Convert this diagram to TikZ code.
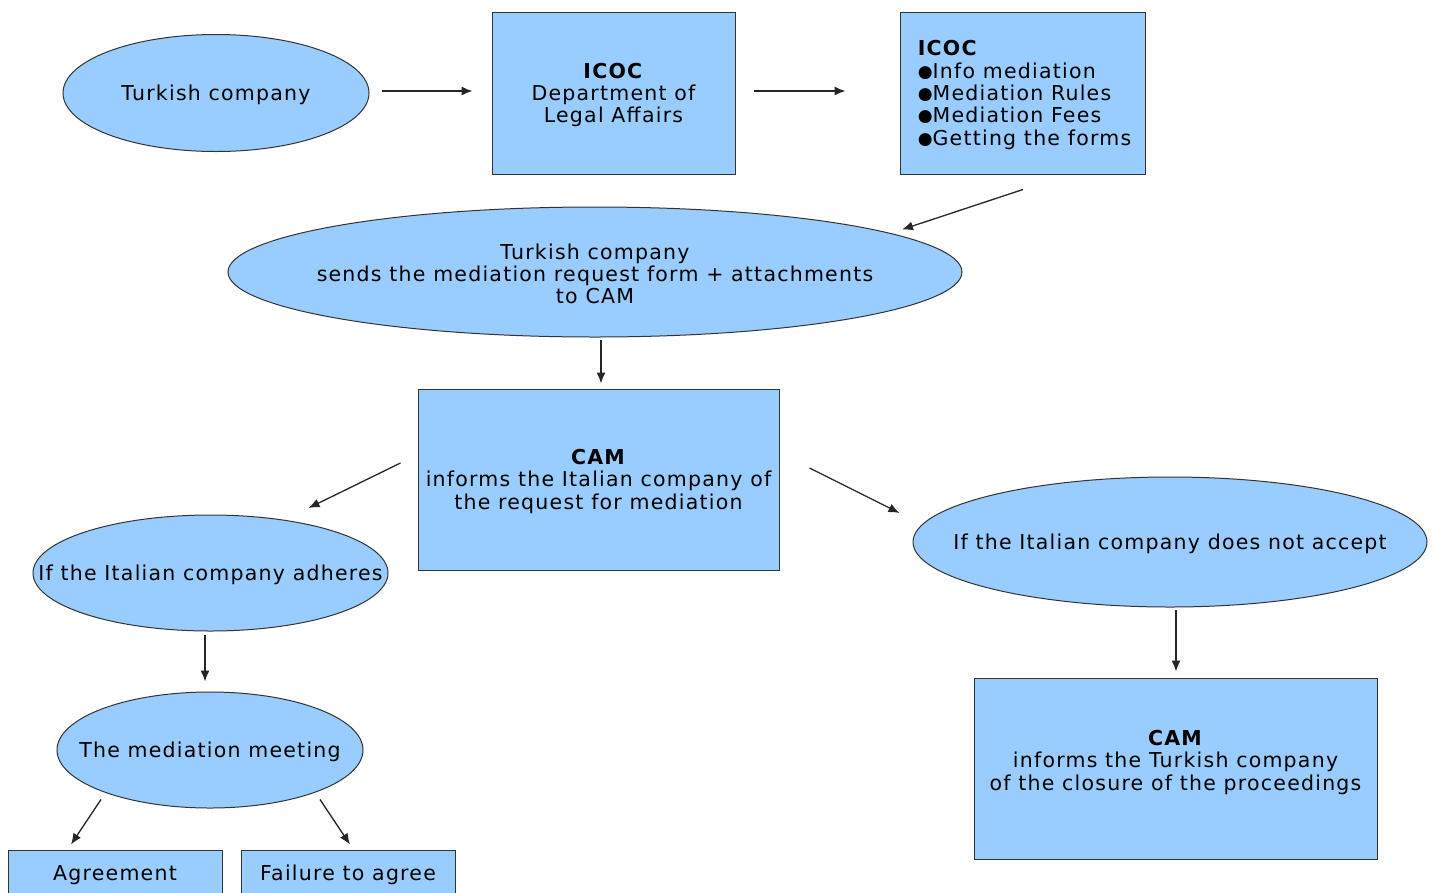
\documentclass[tikz,border=0pt]{standalone}
\usepackage{fontspec}
\setmainfont{DejaVu Sans}[LetterSpace=6]
\usetikzlibrary{shapes.geometric,arrows.meta}
\definecolor{skyfill}{HTML}{99CCFF}
\tikzset{
oval/.style={
	  draw=black!80, line width=1pt, fill=skyfill, ellipse, inner sep=0pt},
box/.style={
	  draw=black!80, line width=1pt, fill=skyfill, rectangle, inner sep=0pt},
arr/.style={
	  draw=black!85, line width=1.3pt, -{Latex[length=11pt,width=9pt]}},
every label/.style={align=center, yshift=-2pt}
}
\newcommand{\dotmark}{\raisebox{1pt}{\fontsize{17}{17}\selectfont ●}}

\begin{document}
\begin{tikzpicture}[x=1pt, y=-1pt, font=\fontsize{20.5}{22.3}\selectfont]
	\useasboundingbox (0,0) rectangle (1434,892);
	\clip (0,0) rectangle (1434,892);
	\node[oval, minimum width=306pt, minimum height=117pt,
		label=center:{Turkish company}] (tc) at (216,93) {};
	\node[box, minimum width=243pt, minimum height=162pt,
		label=center:{\textbf{ICOC}\\Department of\\Legal Affairs}] (icoc1) at (613.5,93) {};
	\node[box, minimum width=245pt, minimum height=162pt,
		label={[align=left, xshift=2pt]center:{\textbf{ICOC}\\\dotmark Info mediation\\\dotmark Mediation Rules\\\dotmark Mediation Fees\\\dotmark Getting the forms}}]
		(icoc2) at (1022.5,93) {};
	\node[oval, minimum width=734pt, minimum height=130pt,
		label=center:{Turkish company\\sends the mediation request form + attachments\\to CAM}]
		(req) at (595,272) {};
	\node[box, minimum width=361pt, minimum height=181pt,
		label=center:{\textbf{CAM}\\informs the Italian company of\\the request for mediation}]
		(cam1) at (598.5,479.5) {};
	\node[oval, minimum width=355pt, minimum height=116pt,
		label=center:{If the Italian company adheres}] (adh) at (210.5,573) {};
	\node[oval, minimum width=514pt, minimum height=130pt,
		label=center:{If the Italian company does not accept}] (nacc) at (1170,542) {};
	\node[oval, minimum width=306pt, minimum height=116pt,
		label=center:{The mediation meeting}] (meet) at (210,750) {};
	\node[box, minimum width=403pt, minimum height=181pt,
		label={[yshift=8pt]center:{\textbf{CAM}\\informs the Turkish company\\of the closure of the proceedings}}]
		(cam2) at (1175.5,768.5) {};
	\node[box, minimum width=214pt, minimum height=46pt,
		label=center:Agreement] (agr) at (115,873) {};
	\node[box, minimum width=214pt, minimum height=46pt,
		label=center:Failure to agree] (fail) at (348,873) {};

	\draw[arr] (tc.east) ++(12,-2) -- ++(91,0);
	\draw[arr] (icoc1.east) ++(18,-2) -- ++(92,0);
	\draw[arr] (icoc2.south) ++(0.5,15) -- ++(-121,40);
	\draw[arr] (req.south) ++(6,2) -- ++(0,44);
	\draw[arr] (cam1.west) ++(-17,-16.5) -- ++(-92,45);
	\draw[arr] (cam1.east) ++(30,-11.5) -- ++(90,45);
	\draw[arr] (adh.south) ++(-5.5,3) -- ++(0,47);
	\draw[arr] (nacc.south) ++(6,2) -- ++(0,62);
	\draw[arr] (meet.south) ++(-109,-9) -- ++(-30,45);
	\draw[arr] (meet.south) ++(110,-9) -- ++(30,45);
\end{tikzpicture}
\end{document}
